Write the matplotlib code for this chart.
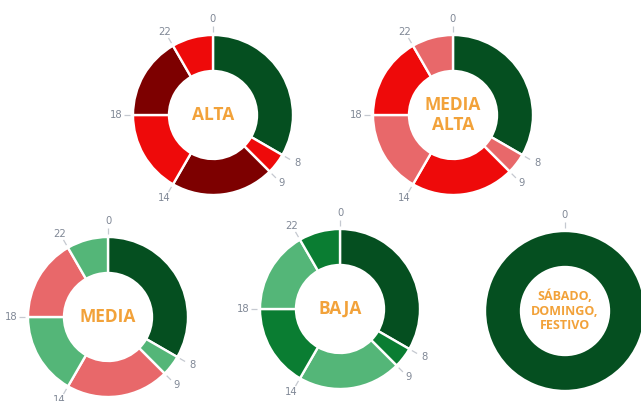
import numpy as np
import matplotlib.pyplot as plt

# tariff periods over the day (hours)
hours = [0, 8, 9, 14, 18, 22]
durations = [8, 1, 5, 4, 4, 2]

DARK_GREEN = "#054f20"
GREEN = "#0a7d32"
LIGHT_GREEN = "#54b678"
DARK_RED = "#7d0000"
RED = "#ee0a0a"
LIGHT_RED = "#e8686a"

titles = ["ALTA", "MEDIA\nALTA", "MEDIA", "BAJA", "SÁBADO,\nDOMINGO,\nFESTIVO"]
colors_alta = [DARK_GREEN, RED, DARK_RED, RED, DARK_RED, RED]
colors_media_alta = [DARK_GREEN, LIGHT_RED, RED, LIGHT_RED, RED, LIGHT_RED]
colors_media = [DARK_GREEN, LIGHT_GREEN, LIGHT_RED, LIGHT_GREEN, LIGHT_RED, LIGHT_GREEN]
colors_baja = [DARK_GREEN, GREEN, LIGHT_GREEN, GREEN, LIGHT_GREEN, GREEN]
colors_festivo = [DARK_GREEN]

# donut centres in pixels (x from left, y from top)
centers = [(213, 115), (453, 115), (108, 317), (340, 309), (565, 311)]

W, H = 641, 401
R_OUT = 80
R_IN = 44
LABEL_COLOR = "#808896"
TICK_COLOR = "#c5c9d0"
TITLE_COLOR = "#f2a23a"


def draw_donut(fig, center, sizes, colors, starts, title, fontsize=12.5):
    cx, cy = center
    half = 110
    ax = fig.add_axes([(cx - half) / W, (H - cy - half) / H, 2 * half / W, 2 * half / H])
    ax.pie(sizes, colors=colors, radius=R_OUT, startangle=90, counterclock=False,
           wedgeprops=dict(width=R_OUT - R_IN, edgecolor="white", linewidth=1.7))
    ax.set_xlim(-half, half)
    ax.set_ylim(-half, half)
    ax.set_aspect("equal")
    ax.axis("off")
    for h in starts:
        a = np.deg2rad(90 - h * 15)
        c, s = np.cos(a), np.sin(a)
        ax.plot([c * (R_OUT + 3), c * (R_OUT + 9)], [s * (R_OUT + 3), s * (R_OUT + 9)],
                color=TICK_COLOR, lw=0.9, solid_capstyle="butt")
        ax.text(c * (R_OUT + 17), s * (R_OUT + 16), str(h), ha="center", va="center",
                fontsize=7.2, color=LABEL_COLOR)
    ax.text(0, 0, title, ha="center", va="center", fontsize=fontsize,
            color=TITLE_COLOR, family="Open Sans", fontweight="bold",
            linespacing=1.15)


fig = plt.figure(figsize=(W / 100, H / 100), dpi=100)
draw_donut(fig, centers[0], durations, colors_alta, hours, titles[0])
draw_donut(fig, centers[1], durations, colors_media_alta, hours, titles[1])
draw_donut(fig, centers[2], durations, colors_media, hours, titles[2])
draw_donut(fig, centers[3], durations, colors_baja, hours, titles[3])
draw_donut(fig, centers[4], [24], colors_festivo, [0], titles[4], fontsize=9)

fig.savefig("out.png", dpi=100)
